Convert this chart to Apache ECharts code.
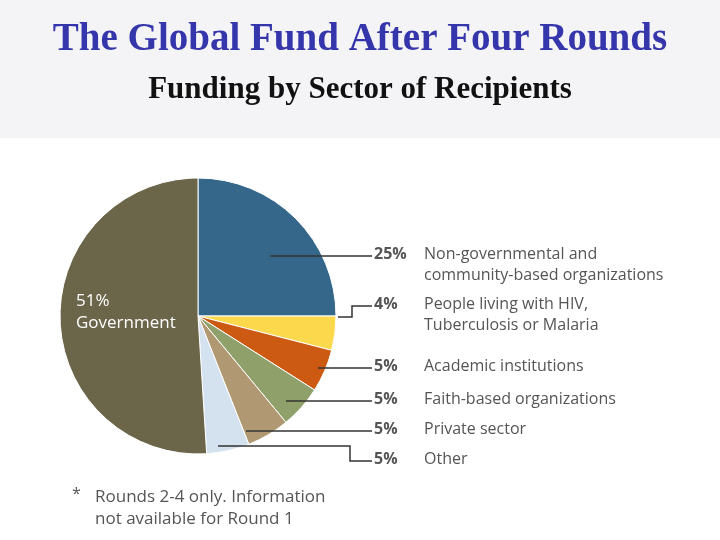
<!DOCTYPE html>
<html><head><meta charset="utf-8">
<script src="https://cdn.jsdelivr.net/npm/echarts@6/dist/echarts.min.js"></script>
<style>html,body{margin:0;padding:0;background:#fff}#c{width:720px;height:540px}</style>
</head><body><div id="c"></div>
<script>
// sectors, clockwise from 12 o'clock
var sectors = ['Non-governmental and community-based organizations', 'People living with HIV, Tuberculosis or Malaria',
  'Academic institutions', 'Faith-based organizations', 'Private sector', 'Other', 'Government'];
var shares = [25, 4, 5, 5, 5, 5, 51];
var colors = ['#35678a', '#fcd84c', '#cc5a12', '#8fa06a', '#b09872', '#d4e1ee', '#6b6549'];

var labelFont = '"Open Sans", "DejaVu Sans", sans-serif';
function lbl(y, pct, l1, l2) {
  var t = [{ type: 'text', z: 100, left: 374, top: y, style: { text: '{b|' + pct + '%}' + l1, font: '16px ' + labelFont, fill: '#555',
    rich: { b: { fontWeight: 'bold', fontSize: 16, fill: '#555', fontFamily: labelFont, width: 50 } } } }];
  if (l2) t.push({ type: 'text', z: 100, left: 424, top: y + 21, style: { text: l2, font: '16px ' + labelFont, fill: '#555' } });
  return t;
}
function ln(pts) { return { type: 'polyline', z: 100, shape: { points: pts }, style: { stroke: '#333', lineWidth: 1.5, fill: null } }; }

var chart = echarts.init(document.getElementById('c'));
chart.setOption({
  animation: false,
  graphic: [
    { type: 'rect', z: -10, shape: { x: 0, y: 0, width: 720, height: 138 }, style: { fill: '#f4f4f6' } },
    { type: 'text', left: 'center', top: 20, style: { text: 'The Global Fund After Four Rounds', font: 'bold 39px "Liberation Serif", serif', fill: '#3535ac' } },
    { type: 'text', left: 'center', top: 74, style: { text: 'Funding by Sector of Recipients', font: 'bold 31px "Liberation Serif", serif', fill: '#111' } },
    { type: 'text', z: 100, left: 76, top: 290, style: { text: '51%\nGovernment', font: '17px ' + labelFont, fill: '#fff', lineHeight: 22 } },
    ln([[270, 256], [372, 256]]),
    ln([[338, 317], [352, 317], [352, 306], [372, 306]]),
    ln([[318, 368], [372, 368]]),
    ln([[286, 401], [372, 401]]),
    ln([[246, 431], [372, 431]]),
    ln([[218, 446], [350, 446], [350, 461], [372, 461]]),
    { type: 'text', z: 100, left: 72, top: 486, style: { text: '*', font: '16px ' + labelFont, fill: '#555' } },
    { type: 'text', z: 100, left: 95, top: 486, style: { text: 'Rounds 2-4 only. Information\nnot available for Round 1', font: '17px ' + labelFont, fill: '#555', lineHeight: 22 } }
  ].concat(lbl(246, shares[0], 'Non-governmental and', 'community-based organizations'))
   .concat(lbl(296, shares[1], 'People living with HIV,', 'Tuberculosis or Malaria'))
   .concat(lbl(358, shares[2], sectors[2]))
   .concat(lbl(391, shares[3], sectors[3]))
   .concat(lbl(421, shares[4], sectors[4]))
   .concat(lbl(451, shares[5], sectors[5])),
  series: [{
    type: 'pie', center: [198, 316], radius: 138, startAngle: 90, clockwise: true, z: 2,
    label: { show: false }, labelLine: { show: false },
    itemStyle: { borderColor: '#fff', borderWidth: 1 },
    data: shares.map(function (v, i) { return { value: v, name: sectors[i], itemStyle: { color: colors[i] } }; })
  }]
});
</script></body></html>
